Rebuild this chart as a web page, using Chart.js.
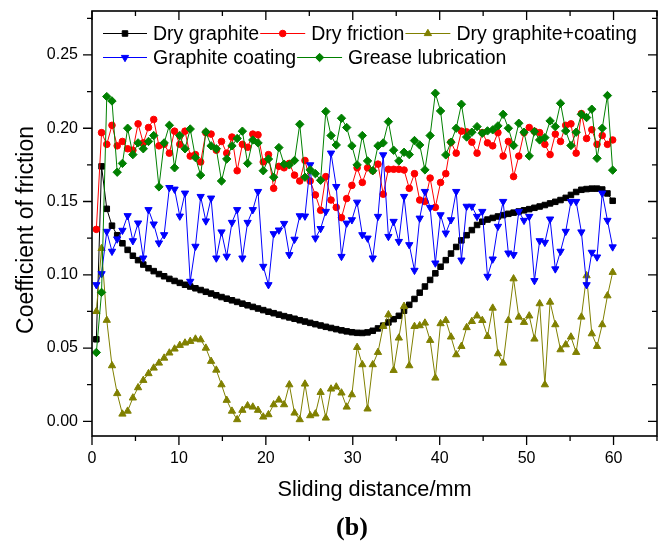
<!DOCTYPE html>
<html>
<head>
<meta charset="utf-8">
<script src="https://cdn.jsdelivr.net/npm/chart.js@4.4.1/dist/chart.umd.min.js"></script>
<style>
  html, body { margin: 0; padding: 0; background: #fff; }
  canvas { display: block; }
</style>
</head>
<body>
<canvas id="frictionChart" width="664" height="551"></canvas>
<script>
// sliding distance (mm) for each sample
const distance = [0.5, 1.1, 1.7, 2.3, 2.9, 3.5, 4.1, 4.7, 5.3, 5.9, 6.5, 7.1, 7.7, 8.3, 8.9, 9.5, 10.1, 10.7, 11.3, 11.9,
  12.5, 13.1, 13.7, 14.3, 14.9, 15.5, 16.1, 16.7, 17.3, 17.9, 18.5, 19.1, 19.7, 20.3, 20.9, 21.5, 22.1, 22.7, 23.3, 23.9,
  24.5, 25.1, 25.7, 26.3, 26.9, 27.5, 28.1, 28.7, 29.3, 29.9, 30.5, 31.1, 31.7, 32.3, 32.9, 33.5, 34.1, 34.7, 35.3, 35.9,
  36.5, 37.1, 37.7, 38.3, 38.9, 39.5, 40.1, 40.7, 41.3, 41.9, 42.5, 43.1, 43.7, 44.3, 44.9, 45.5, 46.1, 46.7, 47.3, 47.9,
  48.5, 49.1, 49.7, 50.3, 50.9, 51.5, 52.1, 52.7, 53.3, 53.9, 54.5, 55.1, 55.7, 56.3, 56.9, 57.5, 58.1, 58.7, 59.3, 59.9];

const dryGraphite = [0.056, 0.174, 0.145, 0.1335, 0.127, 0.1215, 0.117, 0.113, 0.110, 0.107,
  0.1045, 0.1025, 0.1005, 0.099, 0.0972, 0.0958, 0.0945, 0.0932, 0.092, 0.0908,
  0.0896, 0.0884, 0.0872, 0.086, 0.0848, 0.0837, 0.0826, 0.0815, 0.0803, 0.0792,
  0.0781, 0.077, 0.0759, 0.0748, 0.0738, 0.0728, 0.0718, 0.0709, 0.070, 0.069,
  0.0681, 0.0672, 0.0663, 0.0654, 0.0645, 0.0637, 0.0629, 0.0621, 0.0614, 0.0608,
  0.0604, 0.0603, 0.0607, 0.0618, 0.0634, 0.0653, 0.0675, 0.0697, 0.072, 0.0755,
  0.0795, 0.0835, 0.0878, 0.092, 0.0965, 0.101, 0.1055, 0.110, 0.1145, 0.119,
  0.1235, 0.127, 0.1305, 0.134, 0.1362, 0.1377, 0.1388, 0.1398, 0.1407, 0.1416,
  0.1424, 0.1432, 0.144, 0.1448, 0.1457, 0.1466, 0.1476, 0.1487, 0.1498, 0.151,
  0.1525, 0.1545, 0.1565, 0.158, 0.1585, 0.1588, 0.1588, 0.1582, 0.1555, 0.1505];

const dryFriction = [0.131, 0.197, 0.189, 0.202, 0.188, 0.191, 0.186, 0.185, 0.203, 0.190,
  0.2005, 0.206, 0.188, 0.189, 0.183, 0.198, 0.189, 0.198, 0.181, 0.182,
  0.177, 0.197, 0.196, 0.185, 0.191, 0.183, 0.194, 0.171, 0.189, 0.187,
  0.196, 0.1955, 0.177, 0.182, 0.159, 0.174, 0.173, 0.176, 0.168, 0.164,
  0.178, 0.164, 0.1545, 0.144, 0.167, 0.151, 0.146, 0.139, 0.152, 0.161,
  0.173, 0.163, 0.173, 0.171, 0.1755, 0.155, 0.172, 0.172, 0.172, 0.1715,
  0.159, 0.169, 0.151, 0.150, 0.166, 0.146, 0.163, 0.169, 0.1905, 0.183,
  0.198, 0.1975, 0.1905, 0.183, 0.197, 0.190, 0.188, 0.197, 0.181, 0.191,
  0.167, 0.181, 0.197, 0.2005, 0.198, 0.197, 0.189, 0.182, 0.196, 0.191,
  0.202, 0.203, 0.183, 0.210, 0.193, 0.199, 0.189, 0.195, 0.189, 0.192];

const dryGraphiteCoating = [0.075, 0.118, 0.069, 0.038, 0.019, 0.005, 0.007, 0.016, 0.023, 0.028,
  0.0326, 0.0364, 0.0398, 0.0432, 0.0467, 0.0494, 0.0519, 0.0535, 0.0546, 0.0562,
  0.0557, 0.050, 0.041, 0.035, 0.025, 0.0144, 0.007, 0.0012, 0.0076, 0.0107,
  0.0098, 0.0076, 0.003, 0.0046, 0.0114, 0.0146, 0.0114, 0.025, 0.0057, 0.0012,
  0.0255, 0.0039, 0.0051, 0.0198, 0.0023, 0.0221, 0.0235, 0.0194, 0.0098, 0.0182,
  0.0505, 0.0387, 0.0085, 0.0387, 0.0471, 0.0648, 0.0728, 0.0348, 0.0569, 0.0785,
  0.038, 0.0648, 0.0653, 0.0671, 0.0553, 0.0296, 0.0667, 0.0689, 0.0576, 0.0455,
  0.0512, 0.064, 0.0682, 0.072, 0.0689, 0.058, 0.0773, 0.0462, 0.0398, 0.0689,
  0.0973, 0.0712, 0.0676, 0.072, 0.0562, 0.0803, 0.025, 0.0814, 0.066, 0.0489,
  0.0523, 0.0576, 0.0471, 0.0712, 0.0994, 0.0598, 0.0512, 0.066, 0.0857, 0.1017];

const graphiteCoating = [0.0932, 0.1007, 0.1296, 0.116, 0.1244, 0.1303, 0.1403, 0.1232, 0.1353, 0.1114,
  0.1444, 0.1346, 0.1217, 0.1273, 0.1595, 0.1584, 0.140, 0.1557, 0.0955, 0.1194,
  0.1534, 0.1367, 0.1523, 0.1114, 0.1292, 0.1126, 0.1357, 0.1444, 0.1114, 0.1357,
  0.1444, 0.1568, 0.1057, 0.0932, 0.128, 0.1305, 0.135, 0.1137, 0.1242, 0.1402,
  0.140, 0.175, 0.125, 0.1315, 0.1432, 0.183, 0.1602, 0.1125, 0.1352, 0.1375,
  0.1495, 0.1273, 0.125, 0.1114, 0.1398, 0.1818, 0.1261, 0.1364, 0.1227, 0.1534,
  0.1205, 0.103, 0.1386, 0.1568, 0.1459, 0.108, 0.1409, 0.1284, 0.1375, 0.1568,
  0.110, 0.1467, 0.1467, 0.1398, 0.1432, 0.0989, 0.1107, 0.133, 0.150, 0.1148,
  0.1137, 0.1432, 0.1371, 0.1398, 0.096, 0.1232, 0.1221, 0.138, 0.104, 0.116,
  0.1296, 0.150, 0.150, 0.1292, 0.0932, 0.1153, 0.1121, 0.1557, 0.1371, 0.119];

const greaseLubrication = [0.047, 0.088, 0.2216, 0.2186, 0.170, 0.176, 0.200, 0.182, 0.190, 0.186,
  0.191, 0.195, 0.160, 0.190, 0.202, 0.173, 0.195, 0.186, 0.1995, 0.180,
  0.168, 0.1975, 0.188, 0.186, 0.164, 0.179, 0.188, 0.193, 0.198, 0.176,
  0.192, 0.190, 0.171, 0.179, 0.1666, 0.1868, 0.1755, 0.175, 0.178, 0.2027,
  0.1666, 0.1716, 0.169, 0.1645, 0.2114, 0.195, 0.1886, 0.2068, 0.2005, 0.188,
  0.175, 0.195, 0.1777, 0.171, 0.188, 0.190, 0.2045, 0.185, 0.1777, 0.1836,
  0.182, 0.1916, 0.1886, 0.1716, 0.195, 0.2239, 0.2118, 0.1818, 0.1905, 0.200,
  0.2164, 0.194, 0.1973, 0.2011, 0.1966, 0.1982, 0.1989, 0.2016, 0.2095, 0.200,
  0.1882, 0.2034, 0.1973, 0.1811, 0.1977, 0.192, 0.1936, 0.205, 0.2011, 0.217,
  0.1982, 0.1882, 0.1973, 0.2095, 0.2073, 0.213, 0.1795, 0.200, 0.2223, 0.1714];

const yTicks = [0, 0.05, 0.10, 0.15, 0.20, 0.25];
const xTicks = [0, 10, 20, 30, 40, 50, 60];

Chart.defaults.font.family = '"Liberation Sans", Arial, sans-serif';
Chart.defaults.color = '#000';

function pts(values) {
  return distance.map((x, i) => ({ x: x, y: values[i] }));
}

const series = [
  { label: 'Dry graphite', values: dryGraphite, color: '#000000', style: 'rect', radius: 3.9, rotation: 0 },
  { label: 'Dry friction', values: dryFriction, color: '#ff0000', style: 'circle', radius: 3.3, rotation: 0 },
  { label: 'Dry graphite+coating', values: dryGraphiteCoating, color: '#808000', style: 'triangle', radius: 4.2, rotation: 0 },
  { label: 'Graphite coating', values: graphiteCoating, color: '#0000ff', style: 'triangle', radius: 4.2, rotation: 180 },
  { label: 'Grease lubrication', values: greaseLubrication, color: '#008000', style: 'rectRot', radius: 4.2, rotation: 0 }
];

// box round the plot, ticks out on left/bottom, in on top/right, plus y title and panel tag
const framePlugin = {
  id: 'frame',
  afterDraw(chart) {
    const { ctx, chartArea: a, scales } = chart;
    ctx.save();
    ctx.strokeStyle = '#000';
    ctx.lineWidth = 1.3;
    for (let k = 0; k <= 13; k++) {
      const px = scales.x.getPixelForValue(k * 5);
      const len = k % 2 === 0 ? 9 : 5;
      ctx.beginPath();
      ctx.moveTo(px, a.bottom); ctx.lineTo(px, a.bottom + len);
      ctx.moveTo(px, a.top); ctx.lineTo(px, a.top + len);
      ctx.stroke();
    }
    for (let k = 0; k <= 11; k++) {
      const py = scales.y.getPixelForValue(k * 0.025);
      const len = k % 2 === 0 ? 9 : 5;
      ctx.beginPath();
      ctx.moveTo(a.left, py); ctx.lineTo(a.left - len, py);
      ctx.moveTo(a.right, py); ctx.lineTo(a.right - len, py);
      ctx.stroke();
    }
    ctx.lineWidth = 1.6;
    ctx.strokeRect(a.left, a.top, a.right - a.left, a.bottom - a.top);

    ctx.fillStyle = '#000';
    ctx.textAlign = 'center';
    ctx.textBaseline = 'middle';
    ctx.translate(27, 230);
    ctx.rotate(-Math.PI / 2);
    ctx.font = '23px "Liberation Sans", Arial, sans-serif';
    ctx.fillText('Coefficient of friction', 0, 0);
    ctx.setTransform(1, 0, 0, 1, 0, 0);
    ctx.font = 'bold 26px "Liberation Serif", "Times New Roman", serif';
    ctx.fillText('(b)', 352, 528);
    ctx.restore();
  }
};

// legend with line + marker samples, two rows inside the plot
const legendRows = [[0, 1, 2], [3, 4]];
const legendPlugin = {
  id: 'lineLegend',
  afterDraw(chart) {
    const ctx = chart.ctx;
    ctx.save();
    ctx.font = '19.5px "Liberation Sans", Arial, sans-serif';
    ctx.textBaseline = 'middle';
    legendRows.forEach((row, r) => {
      let x = 103;
      const y = 33.5 + r * 24;
      row.forEach((idx, n) => {
        const s = series[idx];
        const len = n === 0 ? 44 : 45;
        ctx.strokeStyle = s.color;
        ctx.fillStyle = s.color;
        ctx.lineWidth = 1;
        ctx.beginPath();
        ctx.moveTo(x, y); ctx.lineTo(x + len, y);
        ctx.stroke();
        Chart.helpers.drawPoint(ctx, { pointStyle: s.style, radius: s.radius, rotation: s.rotation, borderWidth: 1 }, x + len / 2, y);
        ctx.fillStyle = '#000';
        ctx.fillText(s.label, x + len + 6, y + 1);
        x += len + 6 + ctx.measureText(s.label).width + 1;
      });
    });
    ctx.restore();
  }
};

const ctx = document.getElementById('frictionChart').getContext('2d');
const frictionChart = new Chart(ctx, {
  type: 'line',
  data: {
    datasets: series.map((s, i) => ({
      label: s.label,
      data: pts(s.values),
      borderColor: s.color,
      backgroundColor: s.color,
      borderWidth: 1,
      pointStyle: s.style,
      pointRadius: s.radius,
      pointRotation: s.rotation,
      pointBorderWidth: 1,
      tension: 0,
      order: 5 - i
    }))
  },
  options: {
    responsive: false,
    animation: false,
    devicePixelRatio: 1,
    layout: { padding: { top: 11, right: 7, left: 0, bottom: 35 } },
    plugins: {
      legend: { display: false },
      tooltip: { enabled: false },
      title: { display: false }
    },
    scales: {
      x: {
        type: 'linear',
        min: 0,
        max: 65,
        afterFit: s => { s.height = 80; s.paddingLeft = 0; s.paddingRight = 0; },
        afterBuildTicks: s => { s.ticks = xTicks.map(v => ({ value: v })); },
        grid: { display: false, drawTicks: false },
        border: { display: false },
        ticks: { padding: 13, font: { size: 16 }, callback: v => String(v) },
        title: { display: true, text: 'Sliding distance/mm', font: { size: 21.7 }, padding: { top: 0, bottom: 13 } }
      },
      y: {
        type: 'linear',
        min: -0.01,
        max: 0.28,
        afterFit: s => { s.width = 92; s.paddingTop = 0; s.paddingBottom = 0; },
        afterBuildTicks: s => { s.ticks = yTicks.map(v => ({ value: v })); },
        grid: { display: false, drawTicks: false },
        border: { display: false },
        ticks: { padding: 14, font: { size: 16 }, callback: v => v.toFixed(2) },
        title: { display: false }
      }
    }
  },
  plugins: [framePlugin, legendPlugin]
});
</script>
</body>
</html>
